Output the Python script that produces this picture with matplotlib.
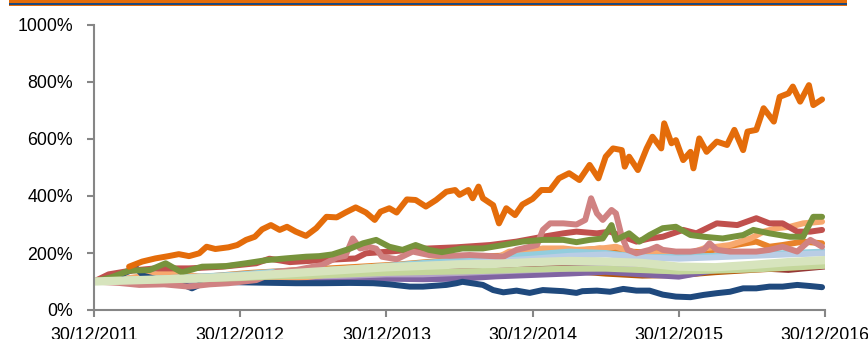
import matplotlib
matplotlib.use("Agg")
import matplotlib.pyplot as plt
from matplotlib.patches import Rectangle

plt.rcParams['font.family'] = ['Liberation Sans', 'DejaVu Sans']

# Time axis in years after 30/12/2011; values are cumulative performance in %
x_tick_labels = ["30/12/2011", "30/12/2012", "30/12/2013", "30/12/2014", "30/12/2015", "30/12/2016"]
y_ticks = [0, 200, 400, 600, 800, 1000]

quarter_t = [0.0, 0.25, 0.5, 0.75, 1.0, 1.25, 1.5, 1.75, 2.0, 2.25, 2.5, 2.75, 3.0,
             3.25, 3.5, 3.75, 4.0, 4.25, 4.5, 4.75, 5.0]

dark_red_v = [100, 105, 110, 115, 118, 125, 130, 135, 140, 142, 146, 150, 155, 158,
              160, 155, 152, 150, 145, 138, 150]
brown_v = [100, 100, 102, 105, 108, 112, 115, 118, 122, 125, 128, 130, 132, 135,
           125, 118, 120, 130, 138, 145, 155]
purple_v = [100, 98, 96, 98, 100, 103, 105, 108, 110, 108, 110, 118, 123, 128,
            134, 125, 117, 140, 145, 155, 165]
lilac_v = [100, 100, 102, 105, 110, 115, 118, 120, 125, 125, 130, 135, 140, 145,
           148, 142, 135, 150, 152, 158, 168]
light_blue_v = [100, 108, 112, 118, 125, 135, 138, 145, 155, 165, 175, 185, 195, 205,
                200, 185, 187, 190, 195, 200, 205]
steel_blue_v = [100, 105, 110, 115, 122, 130, 135, 140, 150, 158, 165, 172, 180, 190,
                195, 185, 180, 185, 190, 195, 199]
sage_v = [100, 102, 105, 108, 112, 118, 120, 125, 130, 133, 135, 138, 142, 145,
          145, 140, 135, 138, 142, 148, 155]
pale_green_v = [100, 104, 108, 112, 118, 126, 134, 142, 150, 155, 160, 162, 168, 172,
                170, 165, 152, 150, 158, 168, 175]

mid_orange_t = [0, 0.38, 0.72, 1.06, 1.40, 1.75, 2.09, 2.43, 2.57, 2.77, 3.05, 3.25,
                3.46, 3.66, 3.87, 4.08, 4.24, 4.35, 4.53, 4.62, 4.71, 4.85, 4.98]
mid_orange_v = [100, 105, 115, 130, 140, 150, 160, 175, 187, 190, 200, 205,
                216, 205, 200, 200, 211, 225, 240, 222, 228, 240, 234]

peach_t = [0, 0.24, 0.49, 0.72, 0.92, 1.13, 1.38, 1.61, 1.88, 2.16, 2.43, 2.64, 2.75,
           2.84, 2.93, 3.07, 3.21, 3.30, 3.46, 3.57, 3.71, 3.85, 3.98, 4.08, 4.17,
           4.26, 4.35, 4.49, 4.58, 4.67, 4.76, 4.85, 4.98]
peach_v = [100, 112, 130, 118, 115, 110, 111, 125, 140, 155, 170, 178, 181,
           205, 205, 216, 216, 211, 215, 222, 199, 199, 193, 199, 216,
           222, 228, 251, 275, 287, 292, 304, 310]

navy_t = [0, 0.10, 0.21, 0.29, 0.34, 0.45, 0.58, 0.67, 0.75, 0.92, 1.13, 1.38, 1.56,
          1.75, 1.91, 2.02, 2.16, 2.25, 2.41, 2.48, 2.52, 2.66, 2.73, 2.80, 2.89,
          2.98, 3.07, 3.21, 3.30, 3.34, 3.44, 3.53, 3.62, 3.71, 3.80, 3.89, 3.98,
          4.08, 4.17, 4.26, 4.35, 4.44, 4.53, 4.62, 4.71, 4.81, 4.90, 4.98]
navy_v = [100, 105, 130, 146, 120, 105, 95, 76, 95, 98, 96, 94, 94,
          95, 94, 90, 82, 82, 88, 94, 99, 88, 70, 62, 68,
          60, 70, 66, 60, 66, 68, 64, 74, 68, 68, 54, 47,
          45, 53, 59, 64, 76, 76, 82, 82, 88, 84, 80]

red_t = [0, 0.10, 0.25, 0.42, 0.65, 0.88, 1.11, 1.20, 1.34, 1.56, 1.79, 1.86, 2.02,
         2.25, 2.48, 2.71, 2.89, 3.07, 3.21, 3.30, 3.44, 3.53, 3.62, 3.71, 3.80,
         3.89, 4.03, 4.12, 4.26, 4.40, 4.53, 4.62, 4.71, 4.81, 4.90, 4.98]
red_v = [100, 125, 138, 146, 146, 152, 164, 180, 168, 175, 181, 199, 205,
         215, 220, 228, 240, 257, 269, 275, 269, 275, 257, 240, 251,
         257, 281, 269, 304, 298, 322, 304, 304, 275, 275, 281]

rose_t = [0, 0.17, 0.31, 0.48, 0.65, 0.79, 0.92, 1.11, 1.25, 1.38, 1.56, 1.66, 1.72,
          1.77, 1.82, 1.88, 1.93, 1.97, 2.07, 2.18, 2.29, 2.43, 2.57, 2.80, 2.89,
          3.03, 3.07, 3.12, 3.21, 3.30, 3.36, 3.40, 3.44, 3.48, 3.54, 3.57, 3.61,
          3.65, 3.71, 3.80, 3.85, 3.89, 3.98, 4.08, 4.17, 4.21, 4.26, 4.35, 4.44,
          4.53, 4.62, 4.71, 4.81, 4.90, 4.98]
rose_v = [100, 95, 88, 90, 82, 90, 94, 105, 134, 140, 158, 184, 190,
          251, 216, 222, 215, 187, 178, 205, 193, 190, 193, 187, 211,
          228, 281, 304, 304, 300, 316, 392, 339, 316, 351, 339, 257,
          211, 199, 211, 222, 211, 205, 205, 211, 234, 211, 205, 205,
          205, 211, 222, 205, 246, 222]

green_t = [0, 0.12, 0.24, 0.38, 0.49, 0.60, 0.74, 0.90, 1.04, 1.18, 1.31, 1.45, 1.54,
           1.63, 1.75, 1.84, 1.93, 2.02, 2.11, 2.20, 2.29, 2.38, 2.52, 2.66, 2.80,
           2.93, 3.07, 3.21, 3.30, 3.39, 3.48, 3.54, 3.57, 3.66, 3.73, 3.80, 3.89,
           3.98, 4.08, 4.17, 4.30, 4.44, 4.51, 4.62, 4.76, 4.85, 4.92, 4.98]
green_v = [100, 115, 138, 140, 164, 132, 152, 154, 164, 175, 181, 187, 189,
           195, 215, 234, 246, 222, 211, 228, 211, 203, 216, 216, 228,
           240, 246, 246, 238, 246, 251, 298, 246, 269, 240, 263, 287,
           292, 263, 257, 251, 263, 281, 269, 257, 257, 327, 327]

orange_t = [0.24, 0.33, 0.42, 0.51, 0.58, 0.65, 0.72, 0.77, 0.83, 0.92, 0.98, 1.04,
            1.10, 1.15, 1.21, 1.27, 1.32, 1.38, 1.45, 1.52, 1.59, 1.66, 1.72, 1.79,
            1.86, 1.92, 1.96, 2.02, 2.07, 2.14, 2.20, 2.27, 2.34, 2.41, 2.47, 2.50,
            2.56, 2.59, 2.63, 2.66, 2.73, 2.77, 2.82, 2.88, 2.93, 3.00, 3.06, 3.12,
            3.18, 3.25, 3.32, 3.39, 3.45, 3.50, 3.55, 3.61, 3.63, 3.66, 3.72, 3.78,
            3.82, 3.88, 3.90, 3.95, 3.98, 4.03, 4.08, 4.10, 4.14, 4.19, 4.26, 4.33,
            4.38, 4.44, 4.47, 4.53, 4.58, 4.65, 4.69, 4.75, 4.78, 4.83, 4.89, 4.92,
            4.98]
orange_v = [152, 170, 181, 189, 196, 189, 199, 222, 214, 220, 228, 246,
            257, 283, 298, 281, 292, 275, 260, 287, 327, 325, 342, 360,
            342, 316, 345, 357, 342, 388, 386, 363, 386, 415, 421, 404,
            421, 392, 433, 392, 368, 304, 357, 333, 370, 390, 421, 421,
            462, 480, 456, 509, 462, 538, 567, 561, 503, 538, 491, 567,
            608, 567, 655, 585, 596, 526, 555, 497, 602, 555, 591, 579,
            632, 561, 626, 632, 708, 661, 748, 760, 784, 731, 789, 719,
            739]

fig = plt.figure(figsize=(8.68, 3.39), dpi=100)
ax = fig.add_axes([94 / 868, 29 / 339, (825 - 94) / 868, 285 / 339])

line_kw = dict(solid_capstyle="round", solid_joinstyle="round")
lw = 4.3

# background group
ax.plot(quarter_t, dark_red_v, color="#953735", lw=3.2, **line_kw)
ax.plot(quarter_t, brown_v, color="#B65708", lw=3.2, **line_kw)
ax.plot(quarter_t, purple_v, color="#8064A2", lw=lw, **line_kw)
ax.plot(quarter_t, lilac_v, color="#B3A2C7", lw=lw, **line_kw)
ax.plot(mid_orange_t, mid_orange_v, color="#E8822A", lw=lw, **line_kw)
ax.plot(peach_t, peach_v, color="#F7A86E", lw=lw, **line_kw)
ax.plot(quarter_t, light_blue_v, color="#93CDDD", lw=lw, **line_kw)
ax.plot(quarter_t, steel_blue_v, color="#B9CDE5", lw=lw, **line_kw)
ax.plot(navy_t, navy_v, color="#1F497D", lw=lw, **line_kw)
ax.plot(red_t, red_v, color="#C0504D", lw=lw, **line_kw)
ax.plot(rose_t, rose_v, color="#D08282", lw=lw, **line_kw)
ax.plot(green_t, green_v, color="#77933C", lw=lw, **line_kw)
ax.plot(quarter_t, sage_v, color="#C4D79B", lw=lw, **line_kw)
ax.plot(quarter_t, pale_green_v, color="#D7E4BD", lw=6.0, **line_kw)
ax.plot(orange_t, orange_v, color="#E46C0A", lw=lw, **line_kw)

ax.set_xlim(0, 5)
ax.set_ylim(0, 1000)
ax.set_xticks(range(len(x_tick_labels)))
ax.set_xticklabels(x_tick_labels)
ax.set_yticks(y_ticks)
ax.set_yticklabels([f"{v}%" for v in y_ticks])

for side in ("top", "right"):
    ax.spines[side].set_visible(False)
for side in ("left", "bottom"):
    ax.spines[side].set_color("#868686")
    ax.spines[side].set_linewidth(1.5)
ax.tick_params(axis="both", colors="#868686", labelcolor="black", labelsize=12.8,
               length=5, width=1.5, direction="out")
ax.tick_params(axis="y", pad=10)
ax.tick_params(axis="x", pad=7)

# title band at the top edge
fig.add_artist(Rectangle((9 / 868, 1 - 6 / 339), 838 / 868, 6 / 339,
                         transform=fig.transFigure, color="#E36C09", lw=0))
fig.add_artist(Rectangle((9 / 868, 1 - 5 / 339), 838 / 868, 2 / 339,
                         transform=fig.transFigure, color="#1F497D", lw=0))

fig.savefig("out.png", dpi=100)
